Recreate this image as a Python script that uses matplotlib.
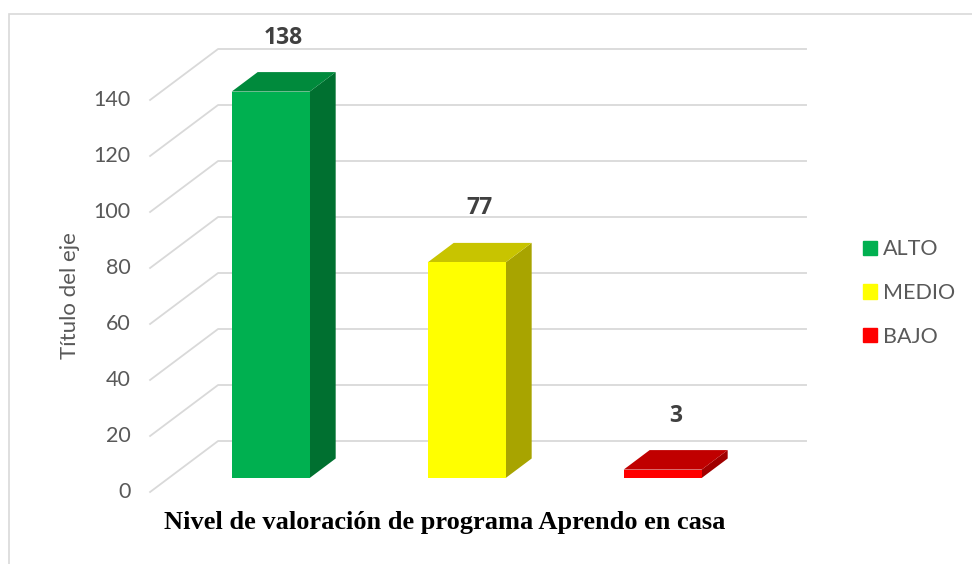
import matplotlib
matplotlib.use('Agg')
import matplotlib.pyplot as plt
from matplotlib.patches import Patch, Rectangle

# data
categorias = ['ALTO', 'MEDIO', 'BAJO']
valores = [138, 77, 3]
ticks = [0, 20, 40, 60, 80, 100, 120, 140]

col_front = ['#00B050', '#FFFF00', '#FF0000']
col_side = ['#007030', '#A8A400', '#A00000']
col_top = ['#008A3C', '#C8C400', '#C00000']

# oblique projection (Excel-like 3D), depth d from 0 (front) to 1 (back wall)
DX = 68 / 196
DV = 51 / 2.8

def proj(x, v, d):
    return x + d * DX, v + d * DV

fig = plt.figure(figsize=(9.72, 5.64), dpi=100)
ax = fig.add_axes([0, 0, 1, 1])
ax.set_xlim(-252 / 196, (972 - 252) / 196)
ax.set_ylim(-72 / 2.8, (564 - 72) / 2.8)
ax.axis('off')

# chart border
fig.add_artist(Rectangle((9 / 972, -0.1), 1.2, 550 / 564 + 0.1, transform=fig.transFigure,
                         fill=False, edgecolor='#D9D9D9', lw=1.2))

# gridlines: left wall + back wall
xl, xr = -0.52, 2.48
for t in ticks:
    a = proj(xl, t, 0)
    b = proj(xl, t, 1)
    c = proj(xr, t, 1)
    ax.plot([a[0], b[0], c[0]], [a[1], b[1], c[1]], color='#D9D9D9', lw=1.3, zorder=1)
    ax.text(xl - 0.1, t, str(t), ha='right', va='center', fontsize=15.5,
            color='#595959', family='Lato')

ax.text(-0.93, 70, 'Título del eje', rotation=90, ha='center', va='center',
        fontsize=16, color='#595959', family='Lato')

# bars
w = 78 / 196
d1, d2 = 0.275, 0.657
for i, v in enumerate(valores):
    x0, x1 = i - w / 2, i + w / 2
    front = [proj(x0, 0, d1), proj(x1, 0, d1), proj(x1, v, d1), proj(x0, v, d1)]
    side = [proj(x1, 0, d1), proj(x1, 0, d2), proj(x1, v, d2), proj(x1, v, d1)]
    top = [proj(x0, v, d1), proj(x1, v, d1), proj(x1, v, d2), proj(x0, v, d2)]
    ax.add_patch(plt.Polygon(side, color=col_side[i], lw=0, zorder=3))
    ax.add_patch(plt.Polygon(top, color=col_top[i], lw=0, zorder=3))
    ax.add_patch(plt.Polygon(front, color=col_front[i], lw=0, zorder=4))
    lx, ly = proj(i, v, (d1 + d2) / 2)
    ax.text(lx, ly + 11.5, str(v), ha='center', va='bottom', fontsize=16.5,
            fontweight='bold', color='#404040', family='Open Sans')

ax.text(445 / 196 - 252 / 196, -72 / 2.8 + (564 - 523) / 2.8,
        'Nivel de valoración de programa Aprendo en casa', ha='center', va='center',
        fontsize=19, fontweight='bold', family='Liberation Serif', color='black')

handles = [Patch(color=c) for c in col_front]
fig.legend(handles, categorias, loc='center left', bbox_to_anchor=(854 / 972, 1 - 293 / 564),
           frameon=False, handlelength=0.65, handleheight=0.65, handletextpad=0.3,
           borderaxespad=0, labelspacing=1.1, prop={'family': 'Lato', 'size': 15.5},
           labelcolor='#595959')

fig.savefig('out.png', dpi=100)
